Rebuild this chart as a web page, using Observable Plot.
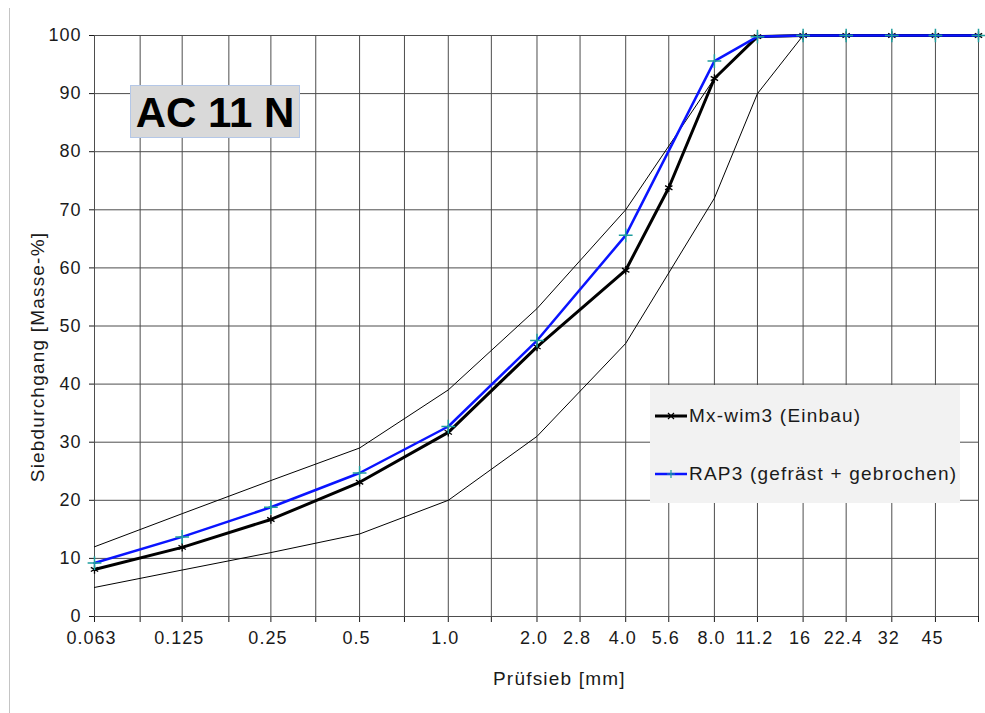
<!DOCTYPE html>
<html>
<head>
<meta charset="utf-8">
<script src="https://cdn.jsdelivr.net/npm/d3@7"></script>
<script src="https://cdn.jsdelivr.net/npm/@observablehq/plot@0.6"></script>
<style>
  html, body { margin: 0; padding: 0; background: #fff; }
  #wrap { position: relative; width: 985px; height: 713px; overflow: hidden; font-family: "Liberation Sans", Arial, sans-serif; color: #1a1a1a; }
  #frame { position: absolute; left: 9px; top: 8px; width: 0; height: 705px; border-left: 1.5px solid #c4c4c4; }
  #titlebox { position: absolute; left: 130px; top: 85px; width: 168px; height: 51px; background: #d9d9d9; border: 1.5px solid #b4c7e7; font-weight: bold; font-size: 42px; line-height: 53px; text-align: center; color: #000; }
  #legend { position: absolute; left: 650px; top: 385px; width: 310px; height: 118px; background: #f2f2f2; }
  .item { position: absolute; left: 5px; height: 24px; display: flex; align-items: center; font-size: 19px; letter-spacing: 1.2px; white-space: nowrap; }
  .item svg { margin-right: 2px; }
  #xtitle { position: absolute; left: 493px; top: 668px; font-size: 19px; letter-spacing: 1.2px; white-space: nowrap; }
  #ytitle { position: absolute; left: 38px; top: 357px; font-size: 19px; letter-spacing: 1.2px; white-space: nowrap; transform: translate(-50%, -50%) rotate(-90deg); }
  #chart { position: absolute; left: 0; top: 0; }
</style>
</head>
<body>
<div id="wrap">
  <div id="chart"></div>
  <div id="frame"></div>
  <div id="titlebox">AC 11 N</div>
  <div id="legend"></div>
  <div id="xtitle"></div>
  <div id="ytitle"></div>
</div>
<script>
// ---- data ----
const title = "AC 11 N";
const xTitle = "Prüfsieb [mm]";
const yTitle = "Siebdurchgang [Masse-%]";

const mxName = "Mx-wim3 (Einbau)";
const mxSieves = [0.063, 0.125, 0.25, 0.5, 1.0, 2.0, 4.0, 5.6, 8.0, 11.2, 16, 22.4, 32, 45, 63];
const mxValues = [8.1, 11.9, 16.7, 23.1, 31.7, 46.4, 59.6, 73.8, 92.6, 99.8, 100, 100, 100, 100, 100];

const rapName = "RAP3 (gefräst + gebrochen)";
const rapSieves = [0.063, 0.125, 0.25, 0.5, 1.0, 2.0, 4.0, 8.0, 11.2, 16, 22.4, 32, 45, 63];
const rapValues = [9.2, 13.7, 18.8, 24.7, 32.7, 47.5, 65.6, 95.6, 99.8, 100, 100, 100, 100, 100];

const upperSieves = [0.063, 0.125, 0.25, 0.5, 1.0, 2.0, 4.0, 8.0, 11.2, 16];
const upperValues = [12, 17.7, 23.4, 29, 39, 53, 70, 92.6, 100, 100];

const lowerSieves = [0.063, 0.125, 0.25, 0.5, 1.0, 2.0, 4.0, 8.0, 11.2, 16];
const lowerValues = [5, 8, 11, 14.2, 20, 31, 47, 72, 90, 100];

const gridSieves = [0.063, 0.09, 0.125, 0.18, 0.25, 0.355, 0.5, 0.71, 1.0, 1.4, 2.0, 2.8, 4.0, 5.6, 8.0, 11.2, 16, 22.4, 32, 45, 63];
const gridLabels = ["0.063", "", "0.125", "", "0.25", "", "0.5", "", "1.0", "", "2.0", "2.8", "4.0", "5.6", "8.0", "11.2", "16", "22.4", "32", "45", ""];
const yTicks = [0, 10, 20, 30, 40, 50, 60, 70, 80, 90, 100];

// ---- tables ----
const toRows = (xs, ys) => xs.map((s, i) => ({sieve: s, value: ys[i]}));
const mx = toRows(mxSieves, mxValues);
const rap = toRows(rapSieves, rapValues);
const upper = toRows(upperSieves, upperValues);
const lower = toRows(lowerSieves, lowerValues);
const xLabels = gridSieves.map((s, i) => ({sieve: s, label: gridLabels[i]})).filter(d => d.label !== "");

const gridColor = "#4d4d4d";
const blue = "#0a14ff";
const teal = "#1f9e9e";

const chart = Plot.plot({
  width: 985,
  height: 713,
  marginLeft: 94,
  marginRight: 7,
  marginTop: 35,
  marginBottom: 97,
  style: {fontFamily: "'Liberation Sans', Arial, sans-serif", fontSize: "18px", letterSpacing: "1px", color: "#1a1a1a", background: "transparent", overflow: "visible"},
  x: {type: "log", domain: [0.063, 63], ticks: gridSieves, tickFormat: () => "", tickSize: 6, label: null},
  y: {domain: [0, 100], ticks: yTicks, tickSize: 5, tickPadding: 8, label: null},
  marks: [
    Plot.ruleX(gridSieves, {stroke: gridColor, strokeWidth: 1}),
    Plot.ruleY(yTicks, {stroke: gridColor, strokeWidth: 1}),
    Plot.text(xLabels, {x: "sieve", text: "label", frameAnchor: "bottom", dy: 27, dx: -3, fill: "#1a1a1a"}),
    Plot.line(upper, {x: "sieve", y: "value", stroke: "#000", strokeWidth: 1}),
    Plot.line(lower, {x: "sieve", y: "value", stroke: "#000", strokeWidth: 1}),
    Plot.line(mx, {x: "sieve", y: "value", stroke: "#000", strokeWidth: 3}),
    Plot.dot(mx, {x: "sieve", y: "value", symbol: "asterisk", r: 4, stroke: "#000", strokeWidth: 1.3}),
    Plot.line(rap, {x: "sieve", y: "value", stroke: blue, strokeWidth: 2.5}),
    Plot.dot(rap, {x: "sieve", y: "value", symbol: "plus", r: 4.5, stroke: teal, strokeWidth: 1.5})
  ]
});
document.getElementById("chart").appendChild(chart);

document.getElementById("titlebox").textContent = title;
document.getElementById("xtitle").textContent = xTitle;
document.getElementById("ytitle").textContent = yTitle;

// legend
const legend = document.getElementById("legend");
const items = [
  {name: mxName, color: "#000", width: 3, marker: "x", mcolor: "#000", top: 19},
  {name: rapName, color: blue, width: 2.5, marker: "+", mcolor: teal, top: 77}
];
for (const it of items) {
  const div = document.createElement("div");
  div.className = "item";
  div.style.top = it.top + "px";
  const mk = it.marker === "x"
    ? `<path d="M13,8L19,14M19,8L13,14" stroke="${it.mcolor}" stroke-width="1.2"/>`
    : `<path d="M16,7V15M12,11H20" stroke="${it.mcolor}" stroke-width="1.2"/>`;
  div.innerHTML = `<svg width="32" height="22"><line x1="0" x2="32" y1="11" y2="11" stroke="${it.color}" stroke-width="${it.width}"/>${mk}</svg><span>${it.name}</span>`;
  legend.appendChild(div);
}
</script>
</body>
</html>
